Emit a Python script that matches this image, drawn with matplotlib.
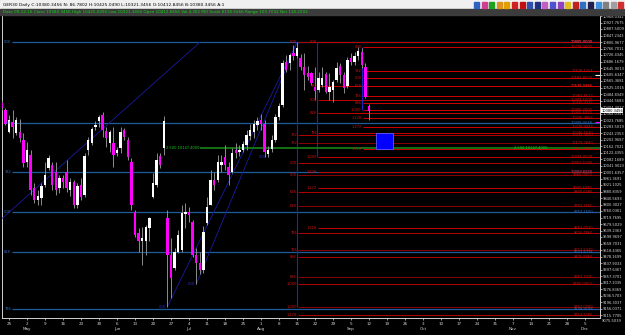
import numpy as np
import pandas as pd
import matplotlib
matplotlib.use("Agg")
import matplotlib.pyplot as plt
from matplotlib.patches import Rectangle

# GER30 daily bars, 21 Apr - 12 Sep 2016
dates = pd.bdate_range("2016-04-21", "2016-09-12")
opens = [10427, 10385,
         10251, 10313, 10241, 10251, 10200,
         10066, 10107, 9903, 9828, 9841,
         9921, 10026, 10045, 10002, 9903,
         9965, 10003, 9890, 9940, 9797,
         9921, 9859, 10138, 10181, 10280,
         10318, 10355, 10258, 10181, 10181,
         10119, 10150, 10262, 10200, 10066,
         9756, 9624, 9574, 9576, 9655,
         9847, 9921, 10101, 10150, 9717,
         9488, 9407, 9506, 9518, 9741,
         9756, 9694, 9488, 9438, 9395,
         9686, 9797, 9952, 9952, 10045,
         10096, 10035, 10003, 10138, 10126,
         10138, 10169, 10225, 10249, 10293,
         10324, 10299, 10113, 10144, 10200,
         10342, 10417, 10685, 10675, 10737,
         10720, 10708, 10654, 10613, 10613,
         10530, 10510, 10541, 10607, 10499,
         10510, 10572, 10658, 10603, 10534,
         10708, 10683, 10720, 10745, 10654,
         10412.8456]
highs = [10450, 10400,
         10355, 10386, 10342, 10330, 10243,
         10189, 10138, 9934, 9890, 9934,
         10066, 10107, 10064, 10064, 9983,
         9983, 10076, 9965, 9952, 9933,
         9965, 10118, 10218, 10282, 10318,
         10355, 10375, 10282, 10262, 10280,
         10157, 10282, 10272, 10220, 10088,
         9766, 9655, 9663, 9673, 9725,
         9996, 10118, 10119, 10349, 9766,
         9593, 9531, 9642, 9797, 9810,
         9787, 9704, 9531, 9508, 9667,
         9849, 10014, 10003, 10107, 10107,
         10169, 10066, 10150, 10181, 10169,
         10194, 10262, 10299, 10324, 10342,
         10361, 10324, 10163, 10231, 10361,
         10429, 10695, 10726, 10737, 10788,
         10805, 10733, 10739, 10658, 10623,
         10654, 10623, 10650, 10623, 10613,
         10572, 10685, 10677, 10621, 10714,
         10739, 10745, 10778, 10770, 10677,
         10425.0490]
lows = [10385, 10290,
        10243, 10212, 10231, 10189, 10035,
        10035, 9859, 9810, 9797, 9797,
        9909, 10014, 9890, 9859, 9872,
        9903, 9878, 9853, 9779, 9779,
        9828, 9847, 10107, 10169, 10262,
        10282, 10220, 10158, 10127, 10035,
        10101, 10121, 10200, 10076, 9766,
        9599, 9508, 9426, 9488, 9576,
        9841, 9909, 10026, 10107, 9167,
        9221, 9395, 9500, 9506, 9655,
        9694, 9477, 9306, 9370, 9376,
        9673, 9797, 9890, 9941, 10002,
        10014, 9921, 9996, 10088, 10101,
        10126, 10138, 10200, 10212, 10262,
        10262, 10094, 10094, 10126, 10187,
        10324, 10406, 10623, 10634, 10695,
        10708, 10634, 10510, 10572, 10540,
        10448, 10497, 10530, 10491, 10448,
        10437, 10559, 10551, 10491, 10522,
        10665, 10665, 10695, 10644, 10460,
        10321.3456]
closes = [10396, 10300,
          10324, 10282, 10324, 10210, 10059,
          10138, 9890, 9828, 9853, 9915,
          9983, 10088, 9921, 9890, 9965,
          9940, 9903, 9940, 9797, 9915,
          9847, 10101, 10200, 10268, 10293,
          10342, 10262, 10210, 10251, 10107,
          10138, 10251, 10218, 10095, 9797,
          9611, 9576, 9593, 9661, 9717,
          9934, 10076, 10045, 10319, 9488,
          9345, 9506, 9611, 9748, 9756,
          9735, 9488, 9438, 9395, 9632,
          9787, 9952, 9921, 10066, 10066,
          10045, 9983, 10119, 10119, 10138,
          10175, 10231, 10262, 10299, 10318,
          10299, 10126, 10138, 10200, 10342,
          10410, 10675, 10634, 10726, 10720,
          10770, 10654, 10603, 10592, 10551,
          10505, 10582, 10586, 10499, 10526,
          10561, 10644, 10603, 10522, 10695,
          10683, 10720, 10751, 10665, 10468,
          10380.3456]

# fibonacci objects drawn on the chart: (high, low, ratios)
blue_fib = (10805.0, 8699.3, [0, 0.236, 0.382, 0.5, 0.618, 0.786])
fib_a1 = (10805.0, 9306.0, [0, 0.382, 0.5, 0.618, 0.786, 0.886, 1.0, 1.128])
fib_a2 = (10805.0, 9167.0, [0.382, 0.5, 0.618, 0.786, 0.886, 1.0])
fib_b = (10805.0, 10094.0, [0, 0.382, 0.5, 0.618, 0.786, 1.0, 1.128, 1.272, 1.618])
fib_c = (10778.0, 10385.7, [0, 0.382, 0.5, 0.618, 0.786, 0.886, 1.0, 1.128, 1.272, 1.618])
green_level = 10147.4
box_bars = (102, 106.6)
box_prices = (10142, 10241)

header1 = "GER30 Daily C:10380.3456 N: 86.7802 H:10425.0490 L:10321.3456 O:10412.8456 B:10380.3456 A:1"
header2 = ("Date 09-12-16 Close 10380.3456 High 10425.0490 Low 10321.3456 Open 10412.8456 "
           "Vol 4,361 MO Scale 8138.5566 Range 103.7002 Net 118.2002")

plt.rcParams["font.family"] = "DejaVu Sans"
FS_HEAD = 3.15     # header lines
FS_AXIS = 2.6      # price scale / dates
FS_LAB = 2.6       # object labels

W, H = 625, 335
X0, DX = 9.0, 3.6                      # px of first monday, px per bar
P_REF, Y_REF, PPX = 10001.6357, 172.0, 40.2666 / 6.5


def bar_at(px):
    return (px - X0) / DX


def price_at(py):
    return P_REF + (Y_REF - py) * PPX


fig = plt.figure(figsize=(W / 100, H / 100), dpi=100, facecolor="black")
ax = fig.add_axes([2 / W, 1 - 318 / H, 598 / W, 303 / H])
ax.set_facecolor("black")
x_right = bar_at(600)
ax.set_xlim(bar_at(2), x_right)
ax.set_ylim(price_at(318), price_at(15))

# header bars
fig.patches.append(Rectangle((0, 1 - 9 / H), 1, 9 / H, transform=fig.transFigure,
                             color="#f0f0f0", zorder=0))
fig.patches.append(Rectangle((0, 1 - 14.5 / H), 1, 5.5 / H, transform=fig.transFigure,
                             color="#3c3c3c", zorder=0))
fig.text(3 / W, 1 - 4.6 / H, header1, fontsize=FS_HEAD, color="black", va="center")
fig.text(3 / W, 1 - 11.8 / H, header2, fontsize=FS_HEAD * 0.95, color="#19d219", va="center")
icon_colors = ["#3060c0", "#d04090", "#20a020", "#e09020", "#e0a000", "#d02020",
               "#c01010", "#3050b0", "#203080", "#c060c0", "#5050d0", "#9040c0",
               "#e0c020", "#c02020", "#3070c0", "#202050", "#4090e0", "#808080",
               "#a0a0a0", "#d03030"]
for k, col in enumerate(icon_colors):
    fig.patches.append(Rectangle(((474 + 7.6 * k) / W, 1 - 7.5 / H), 5 / W, 5 / H,
                                 transform=fig.transFigure, color=col, zorder=1))

# candles
x = np.busday_count(np.datetime64("2016-04-25"), dates.values.astype("datetime64[D]"))
o, h, l, c = (np.asarray(v, dtype=float) for v in (opens, highs, lows, closes))
up = c >= o
ax.vlines(x, l, h, color="#8c8c8c", lw=0.7, zorder=4)
ax.bar(x, np.maximum(np.abs(c - o), 3), bottom=np.minimum(o, c), width=0.62,
       color=np.where(up, "#ffffff", "#ff00ff"), linewidth=0, zorder=5)


def fib_label(r):
    if r == 0:
        return "000"
    return f"{r:.3f}" if r >= 1 else f"{round(r * 1000):03d}"


def draw_fib(fib, start_px, color, text_color, lw=0.7):
    hi, lo, ratios = fib
    for r in ratios:
        p = hi - r * (hi - lo)
        ax.hlines(p, bar_at(start_px), x_right, color=color, lw=lw, zorder=3)
        ax.text(bar_at(start_px - 1), p, fib_label(r), fontsize=FS_LAB, color=text_color,
                ha="right", va="center", zorder=6)
        ax.text(bar_at(593), p, f"{p:.4f}", fontsize=FS_LAB, color=text_color,
                ha="right", va="center", zorder=6)


draw_fib(blue_fib, 12, "#1e5a9c", "#2f6fc0", lw=0.9)
draw_fib(fib_a1, 298, "#b00000", "#d01010")
draw_fib(fib_a2, 298, "#8c0000", "#d01010")
draw_fib(fib_b, 318, "#c40000", "#d01010")
draw_fib(fib_c, 362.5, "#d00000", "#d01010")

# fib anchor verticals and diagonals
navy = "#2222c0"
ax.vlines(80, fib_a2[1], fib_a2[0], color=navy, lw=0.8, zorder=3)
ax.vlines(bar_at(317), fib_b[1], fib_b[0], color=navy, lw=0.8, zorder=3)
ax.vlines(98, fib_c[1], fib_c[0], color=navy, lw=0.8, zorder=3)
ax.plot([-53, 53], [blue_fib[1], blue_fib[0]], color="#1a1aa0", lw=0.6, zorder=3)
for i0, p0 in [(44, fib_a2[1]), (52, fib_a1[1])]:
    ax.plot([i0, 80], [p0, 10805], color="#1a1aa0", lw=0.6, zorder=3)
for p0, px in [(fib_a2[1], 166), (fib_a1[1], 195), (fib_b[1], 266)]:
    ax.text(bar_at(px), p0, "000", fontsize=FS_LAB, color="#2a2ad0", ha="right",
            va="center", zorder=6)

# green level line
ax.hlines(green_level, bar_at(200), x_right, color="#147a14", lw=1.3, zorder=3)
for px in (199, 548):
    ax.text(bar_at(px), green_level, f"2.500 {green_level:.4f}", fontsize=FS_LAB,
            color="#19c819", ha="right", va="center", zorder=6)

# blue box
ax.add_patch(Rectangle((box_bars[0], box_prices[0]), box_bars[1] - box_bars[0],
                       box_prices[1] - box_prices[0], facecolor="#0000ff",
                       edgecolor="#5a5aff", lw=0.6, zorder=6))

# price markers at right edge
ax.hlines(10602.6, bar_at(595), x_right, color="white", lw=0.8, zorder=6)
ax.hlines(10313.0, bar_at(595), x_right, color="#ff00ff", lw=0.8, zorder=6)

# axes styling
ax.spines["top"].set_visible(False)
for s in ("left", "bottom", "right"):
    ax.spines[s].set_color("#d0d0d0")
    ax.spines[s].set_linewidth(0.7)
ax.spines["right"].set_linestyle((0, (1, 1)))

yt = [P_REF + k * 40.2666 for k in range(-22, 25)]
ax.yaxis.tick_right()
ax.set_yticks(yt)
ax.set_yticklabels([f"{v:.4f}" for v in yt])
ax.tick_params(axis="y", colors="#d8d8d8", labelsize=FS_AXIS, length=1.2, width=0.5, pad=0.6)
ax.text(1.003, P_REF - 23 * 40.2666, f"{P_REF - 23 * 40.2666:.4f}", fontsize=FS_AXIS,
        color="#d8d8d8", va="center", ha="left", transform=ax.get_yaxis_transform(),
        clip_on=False)

mondays = pd.date_range("2016-04-25", "2016-12-05", freq="7D")
xt = np.busday_count(np.datetime64("2016-04-25"), mondays.values.astype("datetime64[D]"))
ax.set_xticks(xt)
ax.set_xticklabels([f"{d.day}\n{d:%b}" if d.day <= 7 else f"{d.day}" for d in mondays])
ax.tick_params(axis="x", colors="#d8d8d8", labelsize=3.0, length=1.5, width=0.5, pad=1.5)
for t in ax.get_xticklabels():
    t.set_linespacing(1.25)

# current price tag
ax.text(1.002, 10380.3456, "10380.3456", fontsize=FS_AXIS, color="black", va="center",
        ha="left", transform=ax.get_yaxis_transform(), clip_on=False, zorder=10,
        bbox=dict(facecolor="white", edgecolor="none", pad=0.35))

fig.savefig("out.png", dpi=100, facecolor="black")
